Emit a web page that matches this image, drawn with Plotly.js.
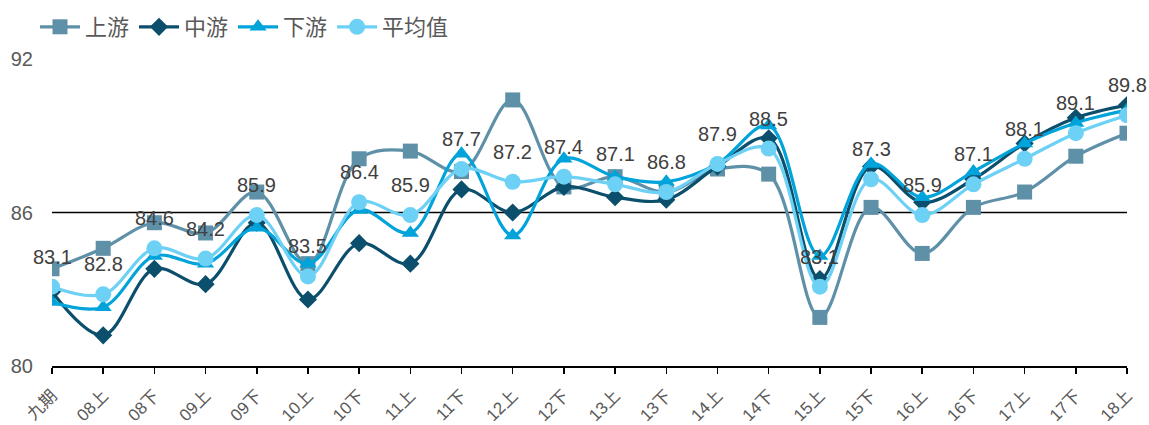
<!DOCTYPE html>
<html><head><meta charset="utf-8">
<script src="https://cdn.plot.ly/plotly-3.0.1.min.js"></script>
<style>body{margin:0;background:#fff}#c{width:1149px;height:425px}</style>
</head><body><div id="c"></div>
<script>
const categories = ['九期','08上','08下','09上','09下','10上','10下','11上','11下','12上','12下','13上','13下','14上','14下','15上','15下','16上','16下','17上','17下','18上'];
const upstream   = [83.8,84.6,85.6,85.2,86.8,84.0,88.1,88.4,87.6,90.4,87.0,87.4,86.8,87.7,87.5,81.9,86.2,84.4,86.2,86.8,88.2,89.1];
const midstream  = [82.9,81.2,83.8,83.2,85.6,82.6,84.8,84.0,86.9,86.0,87.0,86.6,86.5,87.8,88.9,83.4,87.8,86.4,87.3,88.7,89.7,90.2];
const downstream = [82.5,82.3,84.3,84.0,85.4,84.0,86.1,85.2,88.3,85.1,88.1,87.4,87.2,87.9,89.4,84.3,87.9,86.6,87.6,88.7,89.5,90.0];
const average    = [83.1,82.8,84.6,84.2,85.9,83.5,86.4,85.9,87.7,87.2,87.4,87.1,86.8,87.9,88.5,83.1,87.3,85.9,87.1,88.1,89.1,89.8];
const seriesNames = ['上游','中游','下游','平均值'];
const refLine = 86;

const FONT = 'Liberation Sans, Arial, Noto Sans CJK SC, sans-serif';
const x = categories.map((c,i)=>i);
function tr(name, y, color, symbol, size){
  return {type:'scatter', mode:'lines+markers', name, x, y,
    line:{color, width:3.2, shape:'spline', smoothing:1},
    marker:{color, symbol, size}, hoverinfo:'skip'};
}
const data = [
  tr(seriesNames[0], upstream, '#5E90A8', 'square', 15),
  tr(seriesNames[1], midstream, '#0B4F6C', 'diamond', 14),
  tr(seriesNames[2], downstream, '#00A3DA', 'triangle-up', 15),
  tr(seriesNames[3], average, '#6DD0F5', 'circle', 16)
];
const annotations = average.map((v,i)=>({x:i, y:v, xref:'x', yref:'y', text:v.toFixed(1), showarrow:false, yshift:30,
  font:{family:FONT, size:20, color:'#404040'}}));
const layout = {
  width:1149, height:425,
  margin:{l:52, r:22, t:59, b:59},
  paper_bgcolor:'#fff', plot_bgcolor:'#fff',
  font:{family:FONT, color:'#595959'},
  showlegend:true,
  legend:{orientation:'h', x:35/1149, xref:'container', y:1-27/425, yref:'container', xanchor:'left', yanchor:'middle',
    font:{family:FONT, size:22, color:'#595959'}, itemwidth:40, tracegroupgap:0, traceorder:'normal'},
  xaxis:{range:[0,21], tickmode:'array', tickvals:x, ticktext:categories, tickangle:-45,
    showgrid:false, zeroline:false, showline:true, linecolor:'#000', linewidth:2,
    ticks:'outside', ticklen:6, tickcolor:'#000', tickwidth:1.5, ticklabelstandoff:5,
    tickfont:{family:FONT, size:17, color:'#595959'}},
  yaxis:{range:[80,92], tickvals:[80,86,92], showgrid:false, zeroline:false, showline:false,
    tickfont:{family:FONT, size:20, color:'#595959'}, ticklabelstandoff:18},
  shapes:[{type:'line', xref:'paper', x0:0, x1:1, yref:'y', y0:refLine, y1:refLine, line:{color:'#000', width:1.5}, layer:'below'}],
  annotations
};
Plotly.newPlot('c', data, layout, {displayModeBar:false, staticPlot:true});
</script></body></html>
